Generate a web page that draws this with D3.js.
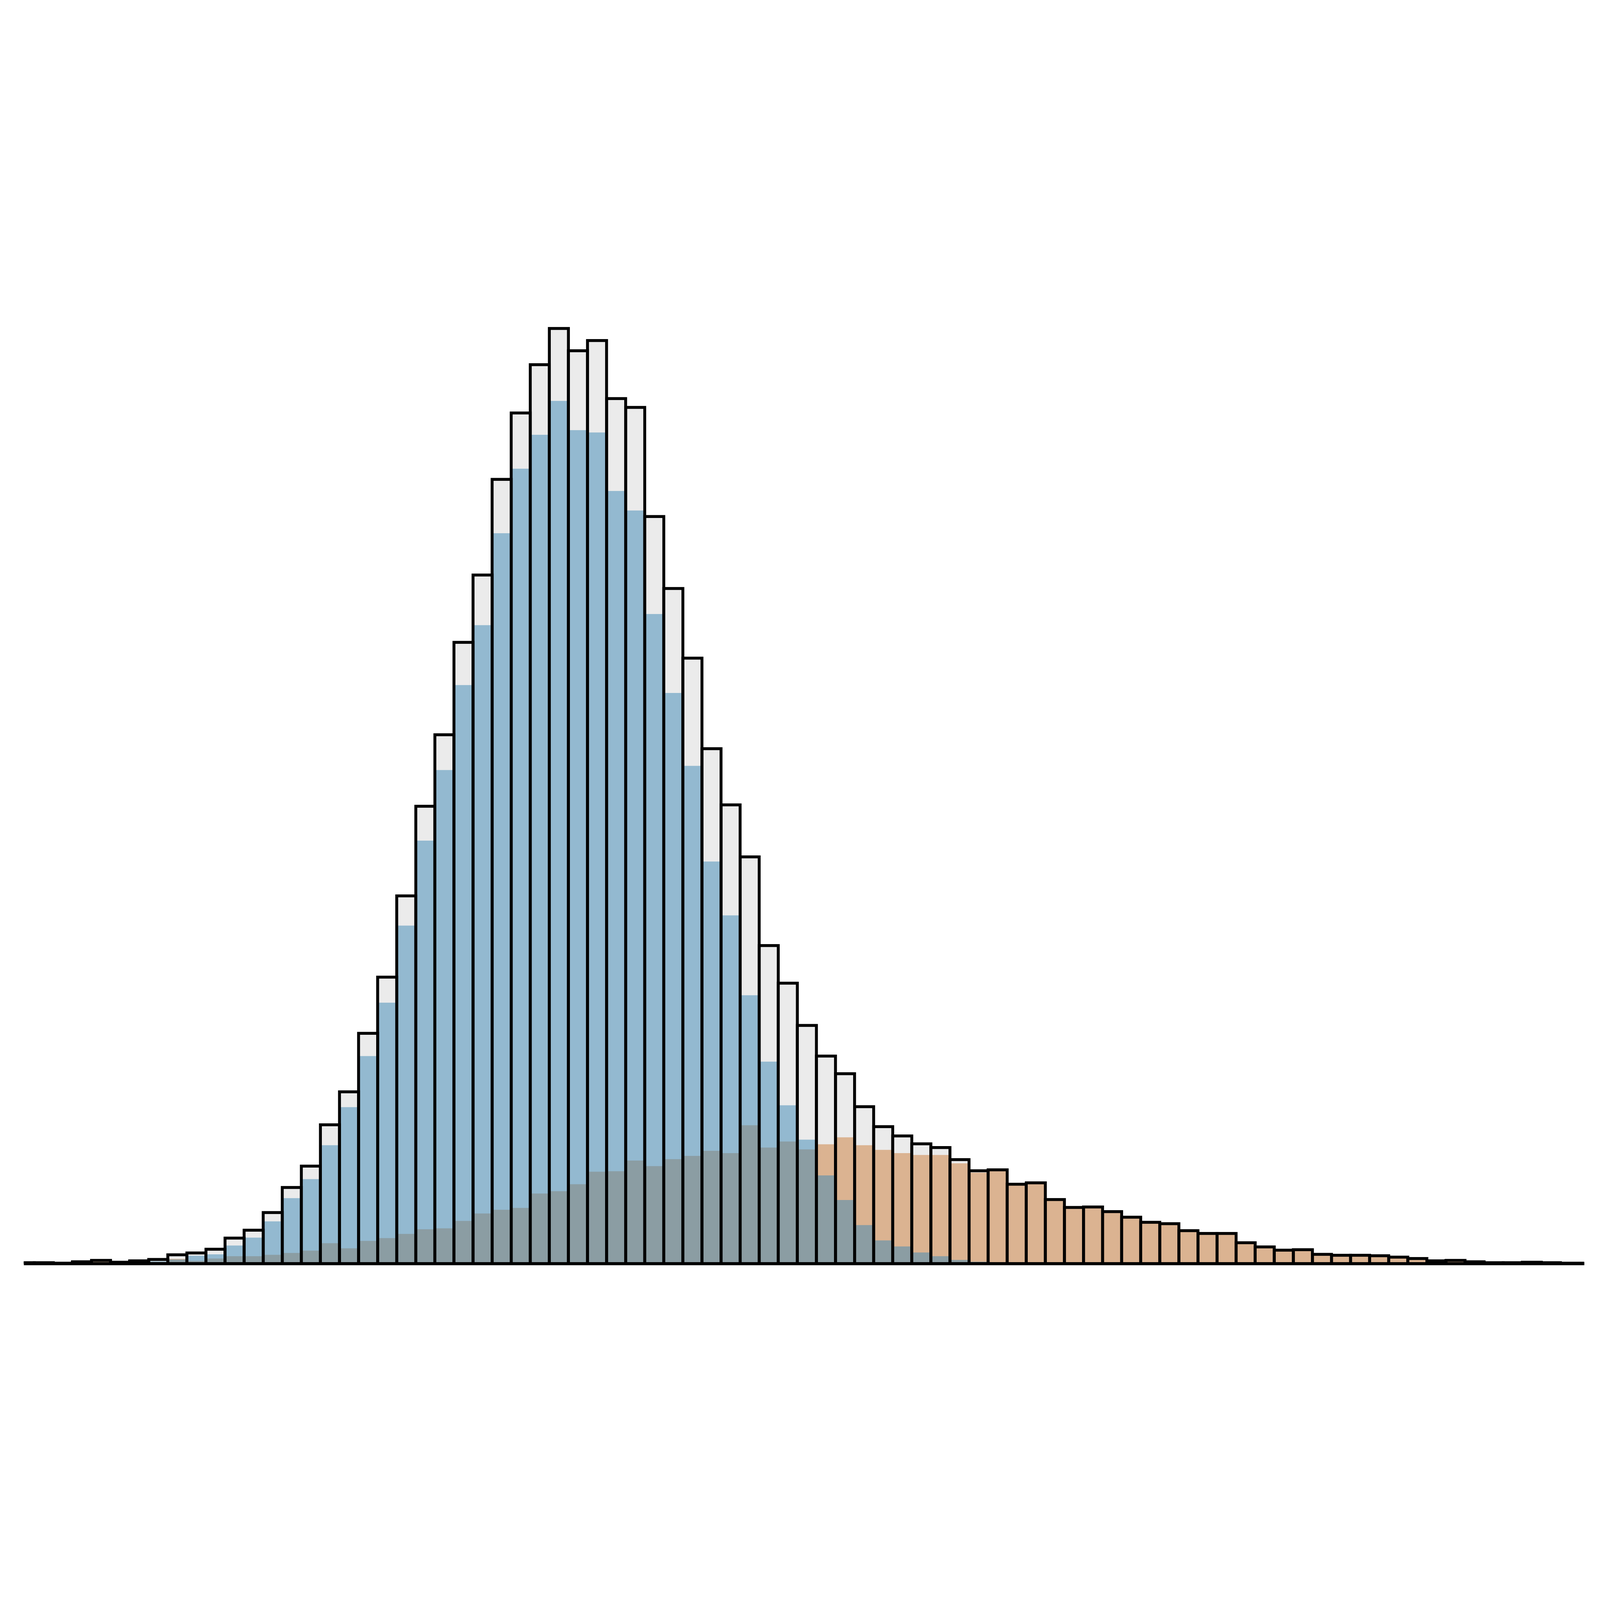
<!DOCTYPE html>
<html>
<head lang="en">
    <meta charset="UTF-8">
    <title>Layered histogram</title>
    <script type="text/javascript" src="https://cdn.jsdelivr.net/npm/d3@7/dist/d3.min.js"></script>
    <style>
        html, body { margin: 0; padding: 0; background: #ffffff; overflow: hidden; }
        svg { display: block; width: 100vw; height: 100vh; }
    </style>
</head>
<body>
<svg id="mainSvg"></svg>
<script>
    // bin index k covers [k, k+1); counts
    var binStart = d3.range(0, 83);

    var blueCounts = [
        1, 1, 0, 2, 3, 1, 3, 5, 9, 17, 20, 39, 56, 91,
        141, 182, 255, 337, 447, 562, 728, 911, 1063, 1246,
        1375, 1573, 1712, 1785, 1858, 1795, 1790, 1664, 1622, 1399,
        1229, 1072, 866, 750, 578, 435, 341, 267, 190, 137,
        83, 50, 37, 24, 16, 8, 4, 1,
        0, 0, 0, 0, 0, 0, 0, 0, 0, 0,
        0, 0, 0, 0, 0, 0, 0, 0, 0, 0,
        0, 0, 0, 0, 0, 0, 0, 0, 0, 0, 0
    ];

    var orangeCounts = [
        1, 1, 1, 2, 4, 2, 3, 4, 10, 6, 11, 16, 16, 19,
        23, 28, 44, 33, 49, 55, 64, 74, 76, 92,
        108, 116, 120, 151, 156, 171, 198, 199, 222, 210,
        225, 232, 243, 238, 298, 250, 263, 246, 257, 272,
        255, 245, 238, 234, 234, 216, 196, 201,
        171, 174, 138, 121, 122, 112, 100, 89, 86, 71,
        65, 65, 45, 36, 29, 30, 20, 18, 18, 17,
        14, 11, 6, 7, 4, 2, 2, 3, 2, 1, 1
    ];

    var xLimits = [0.4455, 82.247];

    var totalCounts = blueCounts.map(function (d, i) {
        return d + orangeCounts[i];
    });

    var w = 6890, h = 4603;
    var left = 102, right = 6822, bottom = 4298;
    var lineW = 12.5;

    // drawn in 6890x4603 units, scaled to whatever window it gets
    var svg = d3.select("#mainSvg")
            .attr("viewBox", "0 0 " + w + " " + h)
            .attr("preserveAspectRatio", "xMidYMid meet");

    var x = d3.scaleLinear().domain(xLimits).range([left, right]);
    var y = d3.scaleLinear()
            .domain([0, d3.max(totalCounts) * 1.05])
            .range([bottom, 69.6]);

    svg.append("rect")
            .attr("width", w)
            .attr("height", h)
            .attr("fill", "#ffffff");

    svg.append("clipPath")
            .attr("id", "plotClip")
            .append("rect")
            .attr("x", left)
            .attr("y", 0)
            .attr("width", right - left)
            .attr("height", bottom);

    var plot = svg.append("g").attr("clip-path", "url(#plotClip)");

    function drawBars(g, values, fill, opacity) {
        g.selectAll("rect")
                .data(values)
                .enter()
                .append("rect")
                .attr("x", function (d, i) {
                    return x(binStart[i]);
                })
                .attr("width", function (d, i) {
                    return x(binStart[i] + 1) - x(binStart[i]);
                })
                .attr("y", function (d) {
                    return y(d);
                })
                .attr("height", function (d) {
                    return bottom - y(d);
                })
                .attr("fill", fill)
                .attr("fill-opacity", opacity);
    }

    // grey total underneath, orange then blue on top with alpha
    drawBars(plot.append("g"), totalCounts, "#ebebeb", 1);
    drawBars(plot.append("g"), orangeCounts, "rgb(203,123,55)", 0.5);
    drawBars(plot.append("g"), blueCounts, "rgb(59,135,181)", 0.5);

    // black outline of the total histogram
    plot.append("g")
            .selectAll("rect")
            .data(totalCounts)
            .enter()
            .append("rect")
            .attr("x", function (d, i) {
                return x(binStart[i]);
            })
            .attr("width", function (d, i) {
                return x(binStart[i] + 1) - x(binStart[i]);
            })
            .attr("y", function (d) {
                return y(d);
            })
            .attr("height", function (d) {
                return bottom - y(d);
            })
            .attr("fill", "none")
            .attr("stroke", "#000000")
            .attr("stroke-width", lineW);

    // bottom spine only
    var xAxis = d3.axisBottom(x).tickValues([]).tickSizeOuter(0);
    var axisG = svg.append("g")
            .attr("transform", "translate(0," + bottom + ")")
            .call(xAxis);
    axisG.select(".domain")
            .attr("stroke", "#000000")
            .attr("stroke-width", lineW)
            .attr("stroke-linecap", "butt");
</script>
</body>
</html>
